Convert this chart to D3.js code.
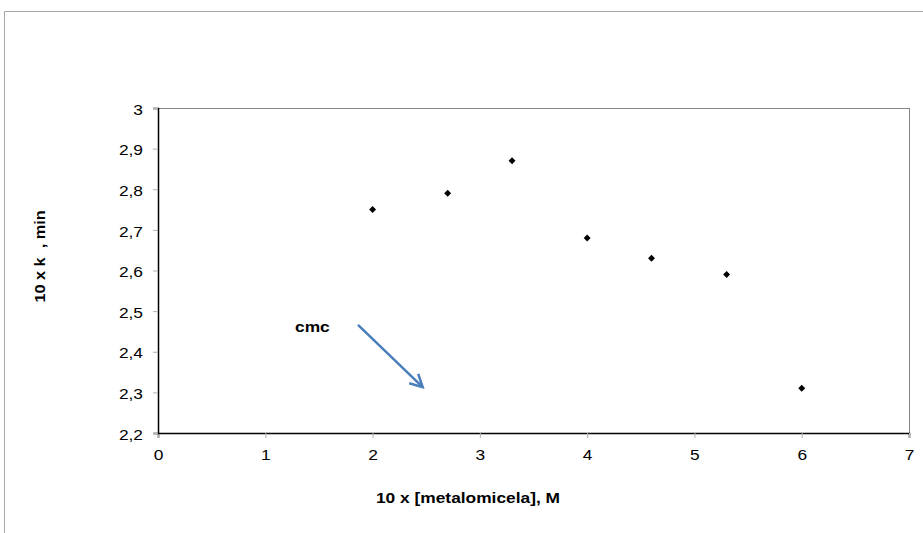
<!DOCTYPE html>
<html>
<head>
<meta charset="utf-8">
<script src="https://cdn.jsdelivr.net/npm/d3@7"></script>
<style>
  body { margin: 0; background: #fff; }
  svg { display: block; font-family: "Liberation Sans", Arial, sans-serif; }
</style>
</head>
<body>
<div id="chart"></div>
<script>
// data
const xValues = [2, 2.7, 3.3, 4, 4.6, 5.3, 6];
const yValues = [2.75, 2.79, 2.87, 2.68, 2.63, 2.59, 2.31];
const xTicks = [0, 1, 2, 3, 4, 5, 6, 7];
const yTicks = [2.2, 2.3, 2.4, 2.5, 2.6, 2.7, 2.8, 2.9, 3];
// annotation arrow (data units): start, end
const cmcArrow = [[1.864, 2.466], [2.467, 2.313]];
const cmcLabel = 'cmc';

const width = 923, height = 533;
const margin = { top: 108, right: 14, bottom: 100, left: 158 };
const fontSize = 15.5;
const stretch = 'scale(1.12,1)'; // the original text is slightly wide

const svg = d3.select('#chart').append('svg')
    .attr('width', width)
    .attr('height', height);

// outer chart frame (only top and left edges visible)
svg.append('line')
    .attr('x1', 4.5).attr('x2', width).attr('y1', 11.5).attr('y2', 11.5)
    .attr('stroke', '#a6a6a6').attr('stroke-width', 1);
svg.append('line')
    .attr('x1', 4.5).attr('x2', 4.5).attr('y1', 11.5).attr('y2', height)
    .attr('stroke', '#a6a6a6').attr('stroke-width', 1);

const x = d3.scaleLinear().domain([0, 7]).range([margin.left, 909]);
const y = d3.scaleLinear().domain([2.2, 3]).range([433, margin.top]);

const locale = d3.formatLocale({ decimal: ',', thousands: '.', grouping: [3], currency: ['', ''] });
const fmt = d => locale.format('~g')(d);

// plot area border top/right
svg.append('line')
    .attr('x1', x(0)).attr('x2', x(7)).attr('y1', y(3) + 0.5).attr('y2', y(3) + 0.5)
    .attr('stroke', '#868686');
svg.append('line')
    .attr('x1', x(7) + 0.5).attr('x2', x(7) + 0.5).attr('y1', y(3)).attr('y2', y(2.2))
    .attr('stroke', '#868686');

// x axis
const xAxis = svg.append('g')
    .attr('transform', `translate(0,${y(2.2)})`)
    .call(d3.axisBottom(x).tickValues(xTicks).tickFormat(fmt).tickSize(5).tickPadding(11));
xAxis.select('.domain').attr('stroke', '#000').attr('stroke-width', 1.5);
xAxis.selectAll('.tick line').attr('stroke', '#b0b0b0');
xAxis.selectAll('text')
    .attr('font-size', fontSize).attr('fill', '#000')
    .attr('font-family', '"Liberation Sans", Arial, sans-serif')
    .attr('transform', stretch);

// y axis
const yAxis = svg.append('g')
    .attr('transform', `translate(${x(0)},0)`)
    .call(d3.axisLeft(y).tickValues(yTicks).tickFormat(fmt).tickSize(5).tickPadding(8.4));
yAxis.select('.domain').attr('stroke', '#000').attr('stroke-width', 1.5);
yAxis.selectAll('.tick line').attr('stroke', '#b0b0b0');
yAxis.selectAll('text')
    .attr('font-size', fontSize).attr('fill', '#000')
    .attr('font-family', '"Liberation Sans", Arial, sans-serif')
    .attr('dy', '0.4em')
    .attr('transform', stretch);

// points
svg.append('g').selectAll('path')
    .data(xValues.map((v, i) => [v, yValues[i]]))
    .join('path')
    .attr('d', d3.symbol().type(d3.symbolSquare).size(24))
    .attr('transform', d => `translate(${x(d[0])},${y(d[1])}) rotate(45)`)
    .attr('fill', '#000');

// axis titles
svg.append('text')
    .attr('transform', `translate(468,502.5) ${stretch}`)
    .attr('text-anchor', 'middle')
    .attr('font-size', fontSize).attr('font-weight', 'bold')
    .text('10 x [metalomicela], M');

svg.append('text')
    .attr('transform', 'translate(45,256.5) rotate(-90) scale(1.05,1)')
    .attr('text-anchor', 'middle')
    .attr('font-size', fontSize).attr('font-weight', 'bold')
    .style('white-space', 'pre')
    .text('10 x k  , min');

// cmc annotation
svg.append('text')
    .attr('transform', `translate(295,332) ${stretch}`)
    .attr('font-size', fontSize).attr('font-weight', 'bold')
    .text(cmcLabel);

const blue = '#4a7ebb';
const p0 = [x(cmcArrow[0][0]), y(cmcArrow[0][1])];
const p1 = [x(cmcArrow[1][0]), y(cmcArrow[1][1])];
svg.append('line')
    .attr('x1', p0[0]).attr('y1', p0[1]).attr('x2', p1[0]).attr('y2', p1[1])
    .attr('stroke', blue).attr('stroke-width', 2.5);
// open arrow head
const ang = Math.atan2(p1[1] - p0[1], p1[0] - p0[0]);
const headLen = 14, spread = Math.PI / 6.5;
const head = [
    [p1[0] - headLen * Math.cos(ang - spread), p1[1] - headLen * Math.sin(ang - spread)],
    p1,
    [p1[0] - headLen * Math.cos(ang + spread), p1[1] - headLen * Math.sin(ang + spread)]
];
svg.append('path')
    .attr('d', d3.line()(head))
    .attr('fill', 'none').attr('stroke', blue).attr('stroke-width', 2.5)
    .attr('stroke-linejoin', 'miter');
</script>
</body>
</html>
